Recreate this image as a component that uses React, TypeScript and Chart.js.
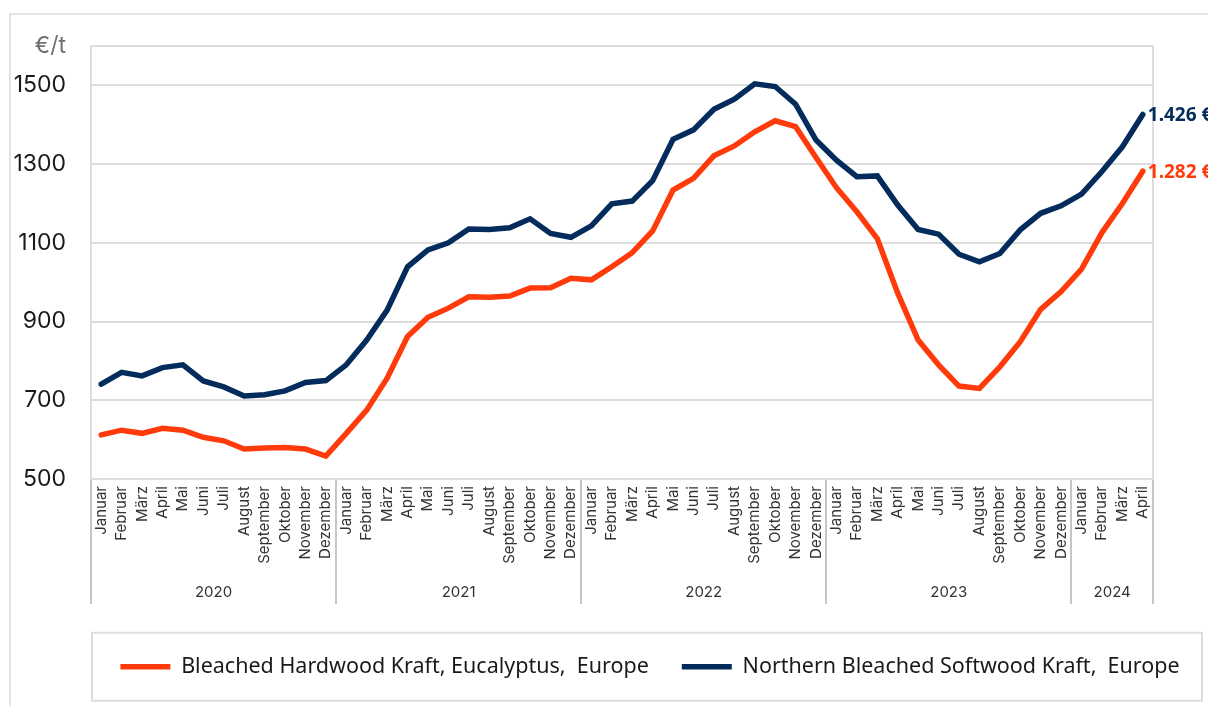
import { useEffect, useRef } from 'react';
import { Chart, registerables } from 'chart.js';

Chart.register(...registerables);

const monthNames = ['Januar', 'Februar', 'März', 'April', 'Mai', 'Juni', 'Juli', 'August', 'September', 'Oktober', 'November', 'Dezember'];
const yearLabels = ['2020', '2021', '2022', '2023', '2024'];
const yearMonthCounts = [12, 12, 12, 12, 4];

const hardwoodName = 'Bleached Hardwood Kraft, Eucalyptus,  Europe';
const softwoodName = 'Northern Bleached Softwood Kraft,  Europe';

const hardwood = [
  612, 624, 616, 629, 624, 606, 597, 576, 579, 580, 576, 558,
  616, 675, 756, 862, 911, 934, 963, 962, 965, 985, 986, 1010,
  1006, 1039, 1075, 1130, 1234, 1264, 1321, 1346, 1382, 1410, 1395, 1317,
  1240, 1179, 1111, 972, 853, 790, 736, 730, 785, 849, 931, 976,
  1033, 1126, 1200, 1282,
];
const softwood = [
  741, 771, 762, 783, 790, 749, 734, 711, 714, 724, 745, 750,
  790, 853, 929, 1039, 1082, 1100, 1135, 1134, 1138, 1161, 1124, 1114,
  1143, 1199, 1206, 1258, 1363, 1387, 1439, 1465, 1504, 1497, 1452, 1361,
  1310, 1268, 1270, 1196, 1134, 1122, 1071, 1052, 1073, 1133, 1175, 1194,
  1224, 1281, 1344, 1426,
];

const yTicks = [500, 700, 900, 1100, 1300, 1500, 1600];
const yMin = 500;
const yMax = 1600;
const unitLabel = '€/t';

const RED = '#ff3b0b';
const NAVY = '#032b5b';
const GRID = '#dddddd';
const SEP = '#c6c6c6';

const categories: string[] = [];
yearMonthCounts.forEach((c) => {
  for (let m = 0; m < c; m++) categories.push(monthNames[m]);
});

function formatEuro(v: number): string {
  const th = Math.floor(v / 1000);
  const rest = String(v % 1000).padStart(3, '0');
  return (th > 0 ? th + '.' + rest : String(v)) + ' €';
}

export default function App() {
  const ref = useRef<HTMLCanvasElement>(null);

  useEffect(() => {
    const canvas = ref.current;
    if (!canvas) return;

    const bounds: number[] = [-0.5];
    const mids: number[] = [];
    const midLabel = new Map<number, string>();
    const boundaryIdx = new Set<number>();
    let start = 0;
    yearMonthCounts.forEach((c, k) => {
      boundaryIdx.add(start);
      const mid = start + c / 2 - 0.5;
      mids.push(mid);
      midLabel.set(mid, yearLabels[k]);
      start += c;
      bounds.push(start - 0.5);
    });
    const total = start;

    const endLabels = {
      id: 'endLabels',
      afterDatasetsDraw(chart: any) {
        const ctx = chart.ctx;
        chart.data.datasets.forEach((ds: any, i: number) => {
          const meta = chart.getDatasetMeta(i);
          const pt = meta.data[meta.data.length - 1];
          const v = ds.data[ds.data.length - 1];
          ctx.save();
          ctx.font = 'bold 19px "Noto Sans"';
          ctx.fillStyle = ds.borderColor;
          ctx.textAlign = 'left';
          ctx.textBaseline = 'middle';
          ctx.fillText(formatEuro(v), pt.x + 5, pt.y + 1);
          ctx.restore();
        });
      },
    };

    const legendPad = 33;
    const legendFont = 21.5;
    const legendBox = {
      id: 'legendBox',
      afterDraw(chart: any) {
        const lg = chart.legend;
        const { ctx, chartArea } = chart;
        const cy = lg.top + legendPad + legendFont / 2;
        ctx.save();
        ctx.strokeStyle = GRID;
        ctx.lineWidth = 2;
        ctx.strokeRect(chartArea.left + 1, cy - 34, 1110, 68);
        ctx.restore();
      },
    };

    const chart = new Chart(canvas, {
      type: 'line',
      data: {
        labels: categories,
        datasets: [
          {
            label: hardwoodName,
            data: hardwood,
            borderColor: RED,
            backgroundColor: RED,
            borderWidth: 5.5,
            pointRadius: 0,
            borderCapStyle: 'round',
            borderJoinStyle: 'miter',
            tension: 0,
            xAxisID: 'x',
            yAxisID: 'y',
          },
          {
            label: softwoodName,
            data: softwood,
            borderColor: NAVY,
            backgroundColor: NAVY,
            borderWidth: 5.5,
            pointRadius: 0,
            borderCapStyle: 'round',
            borderJoinStyle: 'miter',
            tension: 0,
            xAxisID: 'x',
            yAxisID: 'y',
          },
        ],
      },
      options: {
        responsive: false,
        animation: false,
        layout: { padding: { top: 46, bottom: 18.5, left: 0, right: 0 } },
        plugins: {
          legend: {
            position: 'bottom',
            labels: {
              usePointStyle: true,
              pointStyle: 'line',
              pointStyleWidth: 50,
              padding: legendPad,
              color: '#1a1a1a',
              font: { family: 'Noto Sans', size: legendFont },
            },
          },
          tooltip: { enabled: false },
        },
        scales: {
          x: {
            type: 'category',
            position: 'bottom',
            offset: true,
            weight: 1,
            grid: {
              offset: true,
              drawOnChartArea: false,
              drawTicks: true,
              tickLength: 85,
              lineWidth: 2,
              tickColor: (c: any) => (c.index === undefined || boundaryIdx.has(c.index) ? SEP : 'rgba(0,0,0,0)'),
            },
            border: { display: true, color: GRID, width: 2 },
            ticks: {
              autoSkip: false,
              maxRotation: 90,
              minRotation: 90,
              padding: -78,
              font: { family: 'Inter', size: 15 },
              color: '#333333',
            },
            afterFit: (s: any) => {
              s.height = 85;
            },
          },
          years: {
            type: 'linear',
            position: 'bottom',
            display: true,
            min: -0.5,
            max: total - 0.5,
            weight: 2,
            offset: false,
            afterBuildTicks: (s: any) => {
              s.ticks = [...bounds, ...mids].sort((a, b) => a - b).map((v) => ({ value: v }));
            },
            grid: {
              drawOnChartArea: false,
              drawTicks: true,
              tickLength: 40,
              lineWidth: 2,
              tickColor: (c: any) => (c.tick && bounds.includes(c.tick.value) ? SEP : 'rgba(0,0,0,0)'),
            },
            border: { display: false },
            ticks: {
              autoSkip: false,
              maxRotation: 0,
              minRotation: 0,
              padding: -21,
              font: { family: 'Inter', size: 15 },
              color: '#333333',
              callback: (v: any) => midLabel.get(Number(v)) ?? '',
            },
            afterFit: (s: any) => {
              s.height = 59;
            },
          },
          y: {
            type: 'linear',
            position: 'left',
            min: yMin,
            max: yMax,
            afterBuildTicks: (s: any) => {
              s.ticks = yTicks.map((v) => ({ value: v }));
            },
            afterFit: (s: any) => {
              s.width = 91;
            },
            grid: { color: GRID, lineWidth: 2, drawTicks: false },
            border: { display: true, color: GRID, width: 2 },
            ticks: {
              padding: 25,
              font: { family: 'Inter', size: 23 },
              color: (c: any) => (c.tick && c.tick.value === yMax ? '#707070' : '#1a1a1a'),
              callback: (v: any) => (Number(v) === yMax ? unitLabel : String(v)),
            },
          },
          yRight: {
            type: 'linear',
            position: 'right',
            display: true,
            grid: { display: false, drawOnChartArea: false },
            ticks: { display: false },
            border: { display: true, color: GRID, width: 2 },
            afterFit: (s: any) => {
              s.width = 147;
            },
          },
        },
      } as any,
      plugins: [endLabels, legendBox],
    });

    return () => chart.destroy();
  }, []);

  return (
    <div
      style={{
        position: 'fixed',
        left: 0,
        top: 0,
        width: 1208,
        height: 706,
        overflow: 'hidden',
        background: '#ffffff',
      }}
    >
      <div
        style={{
          position: 'absolute',
          left: 9,
          top: 13,
          width: 1400,
          height: 900,
          border: '2px solid #e4e4e4',
        }}
      />
      <canvas
        ref={ref}
        width={1300}
        height={706}
        style={{ position: 'absolute', left: 0, top: 0, display: 'block', width: 1300, height: 706 }}
      />
    </div>
  );
}
